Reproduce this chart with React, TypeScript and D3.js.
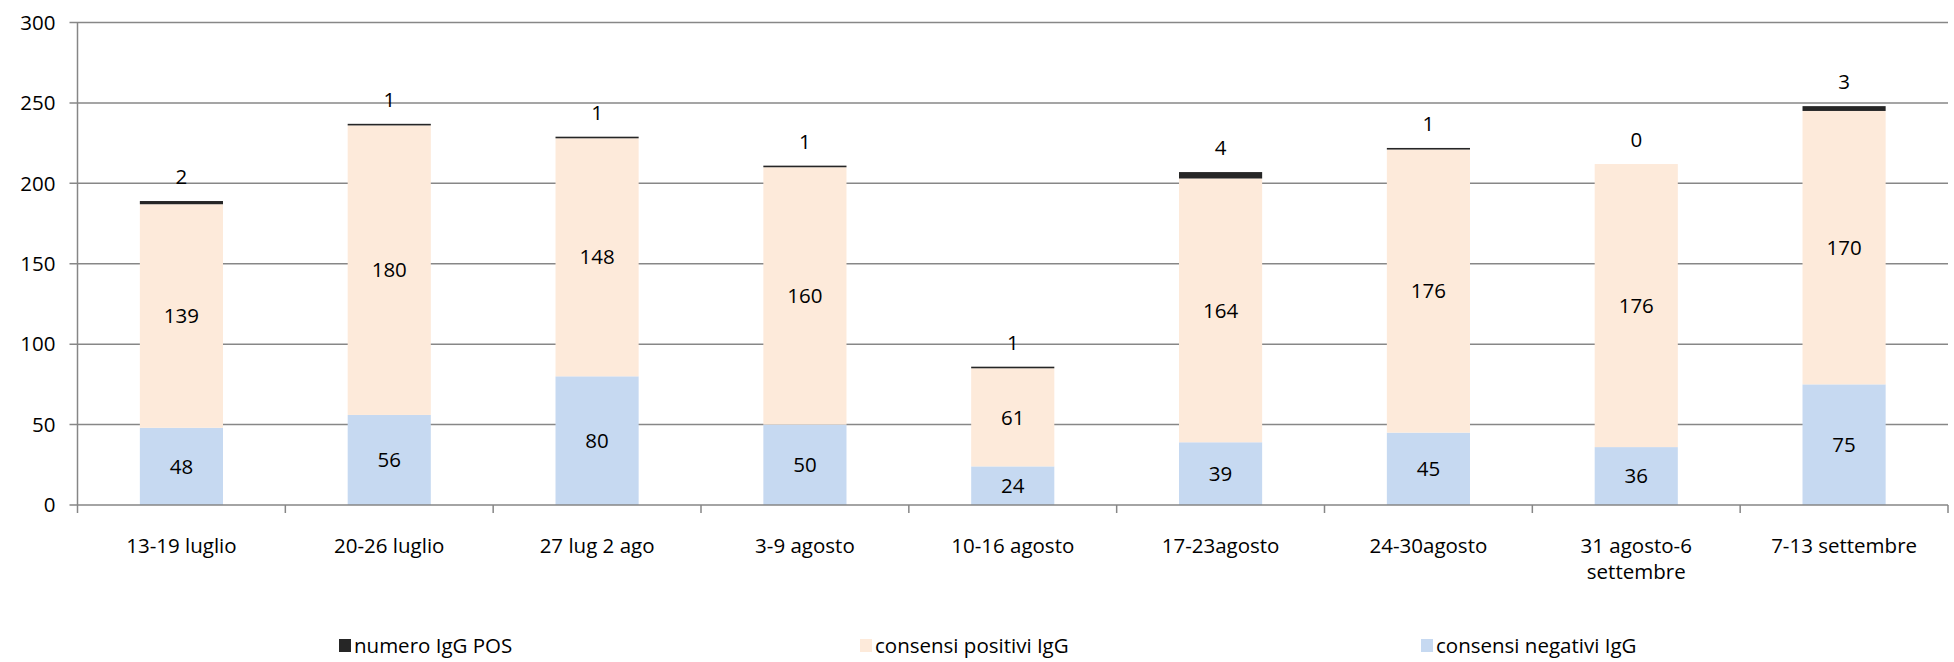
import React, { useEffect, useRef } from 'react'
import * as d3 from 'd3'

const categories = [
  '13-19 luglio',
  '20-26 luglio',
  '27 lug 2 ago',
  '3-9 agosto',
  '10-16 agosto',
  '17-23agosto',
  '24-30agosto',
  '31 agosto-6\nsettembre',
  '7-13 settembre',
]
const consensiNegativi = [48, 56, 80, 50, 24, 39, 45, 36, 75]
const consensiPositivi = [139, 180, 148, 160, 61, 164, 176, 176, 170]
const numeroIgGPos = [2, 1, 1, 1, 1, 4, 1, 0, 3]
const yTicks = [0, 50, 100, 150, 200, 250, 300]

const seriesNames = ['numero IgG POS', 'consensi positivi IgG', 'consensi negativi IgG']
const colors = { neg: '#c6d9f1', pos: '#fdeada', igg: '#262626' }

const W = 1954
const H = 662
const FONT = "'Open Sans', sans-serif"
const FS = '20.5px'

export default function App() {
  const svgRef = useRef<SVGSVGElement>(null)

  useEffect(() => {
    if (!svgRef.current) return
    const svg = d3.select(svgRef.current)
    svg.selectAll('*').remove()

    const left = 77.5
    const right = 1948
    const top = 22.5
    const bottom = 505

    const x = d3.scaleBand<string>().domain(categories).range([left, right]).padding(0)
    const y = d3.scaleLinear().domain([0, 300]).range([bottom, top])
    const barW = x.bandwidth() * 0.4

    // gridlines
    svg.append('g')
      .selectAll('line')
      .data(yTicks.filter(d => d > 0))
      .enter()
      .append('line')
      .attr('x1', left - 8)
      .attr('x2', right)
      .attr('y1', d => y(d))
      .attr('y2', d => y(d))
      .attr('stroke', '#878787')
      .attr('stroke-width', 1.5)

    const rows = categories.map((c, i) => ({
      c,
      neg: consensiNegativi[i],
      pos: consensiPositivi[i],
      igg: numeroIgGPos[i],
    }))

    const bars = svg.append('g')
    rows.forEach(r => {
      const bx = (x(r.c) as number) + (x.bandwidth() - barW) / 2
      bars.append('rect')
        .attr('x', bx).attr('width', barW)
        .attr('y', y(r.neg)).attr('height', y(0) - y(r.neg))
        .attr('fill', colors.neg)
      bars.append('rect')
        .attr('x', bx).attr('width', barW)
        .attr('y', y(r.neg + r.pos)).attr('height', y(r.neg) - y(r.neg + r.pos))
        .attr('fill', colors.pos)
      if (r.igg > 0) {
        bars.append('rect')
          .attr('x', bx).attr('width', barW)
          .attr('y', y(r.neg + r.pos + r.igg)).attr('height', y(r.neg + r.pos) - y(r.neg + r.pos + r.igg))
          .attr('fill', colors.igg)
      }
    })

    // axes
    const axisColor = '#868686'
    svg.append('line')
      .attr('x1', left).attr('x2', left)
      .attr('y1', top).attr('y2', bottom + 8)
      .attr('stroke', axisColor).attr('stroke-width', 1.5)
    svg.append('line')
      .attr('x1', left - 8).attr('x2', right)
      .attr('y1', bottom).attr('y2', bottom)
      .attr('stroke', axisColor).attr('stroke-width', 1.5)

    const tickXs = categories.slice(1).map(c => x(c) as number).concat([right])
    svg.append('g')
      .selectAll('line')
      .data(tickXs)
      .enter()
      .append('line')
      .attr('x1', d => d)
      .attr('x2', d => d)
      .attr('y1', bottom)
      .attr('y2', bottom + 8)
      .attr('stroke', axisColor)
      .attr('stroke-width', 1.5)

    // y tick labels
    svg.append('g')
      .selectAll('text')
      .data(yTicks)
      .enter()
      .append('text')
      .attr('x', left - 22)
      .attr('y', d => y(d))
      .attr('dy', '0.35em')
      .attr('text-anchor', 'end')
      .style('font-family', FONT)
      .style('font-size', FS)
      .attr('fill', '#000')
      .text(d => d)

    // x labels
    const xl = svg.append('g')
    categories.forEach(c => {
      const cx = (x(c) as number) + x.bandwidth() / 2
      const t = xl.append('text')
        .attr('x', cx)
        .attr('y', 546)
        .attr('text-anchor', 'middle')
        .style('font-family', FONT)
        .style('font-size', FS)
        .attr('fill', '#000')
      c.split('\n').forEach((line, li) => {
        t.append('tspan')
          .attr('x', cx)
          .attr('dy', li === 0 ? '0.35em' : '1.25em')
          .text(line)
      })
    })

    // data labels
    const dl = svg.append('g')
      .style('font-family', FONT)
      .style('font-size', FS)
      .attr('fill', '#000')
      .attr('text-anchor', 'middle')
    rows.forEach(r => {
      const cx = (x(r.c) as number) + x.bandwidth() / 2
      dl.append('text').attr('x', cx).attr('y', y(r.neg / 2)).attr('dy', '0.35em').text(r.neg)
      dl.append('text').attr('x', cx).attr('y', y(r.neg + r.pos / 2)).attr('dy', '0.35em').text(r.pos)
      dl.append('text').attr('x', cx).attr('y', y(r.neg + r.pos + r.igg) - 24).attr('dy', '0.35em').text(r.igg)
    })

    // legend
    const legendX = [339, 860, 1421]
    const legendColors = [colors.igg, colors.pos, colors.neg]
    const lg = svg.append('g')
    seriesNames.forEach((name, i) => {
      lg.append('rect')
        .attr('x', legendX[i]).attr('y', 639)
        .attr('width', 12).attr('height', 13)
        .attr('fill', legendColors[i])
      lg.append('text')
        .attr('x', legendX[i] + 15)
        .attr('y', 646)
        .attr('dy', '0.35em')
        .style('font-family', FONT)
        .style('font-size', FS)
        .attr('fill', '#000')
        .text(name)
    })
  }, [])

  return (
    <svg
      ref={svgRef}
      width={W}
      height={H}
      style={{ position: 'absolute', left: 0, top: 0, background: '#fff' }}
    />
  )
}
